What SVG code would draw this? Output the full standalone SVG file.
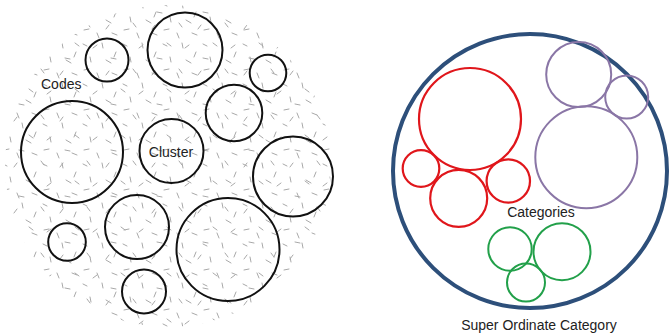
<svg xmlns="http://www.w3.org/2000/svg" width="670" height="334" viewBox="0 0 670 334">
<style>
.code{fill:none;stroke:#111;stroke-width:2}
.red{fill:none;stroke:#e0161b;stroke-width:2.2}
.pur{fill:none;stroke:#8a76a6;stroke-width:2}
.grn{fill:none;stroke:#22a04a;stroke-width:2}
.sup{fill:none;stroke:#2d4f7a;stroke-width:4}
.lbl{font-family:"Liberation Sans",Arial,sans-serif;font-size:14px;fill:#222}
.d{stroke:#a8a8a8;stroke-width:1;fill:none;stroke-linecap:round}
</style>
<defs>
<pattern id="p1" width="40" height="40" patternUnits="userSpaceOnUse">
<path class="d" d="M3 4l4 2M22 3l1 5M36 12l-2 5M10 17l1 5M26 20l5 3M4 30l5-1M17 33l2 5M32 33l5 2"/>
</pattern>
<pattern id="p2" width="46" height="46" patternUnits="userSpaceOnUse" x="11" y="17">
<path class="d" d="M6 8l-3 4M30 6l3 4M18 26l4 3M40 28l-4 3M8 41l5 1"/>
</pattern>
<clipPath id="cp"><ellipse cx="168" cy="166" rx="163" ry="161"/></clipPath>
</defs>
<rect width="670" height="334" fill="#fff"/>
<g id="codes-texture" clip-path="url(#cp)">
<rect x="0" y="0" width="340" height="334" fill="url(#p1)"/>
<rect x="0" y="0" width="340" height="334" fill="url(#p2)"/>
</g>
<g id="cluster-1"><circle class="code" cx="107" cy="60" r="21.5"/></g>
<g id="cluster-2"><circle class="code" cx="185" cy="50" r="37.5"/></g>
<g id="cluster-3"><circle class="code" cx="268" cy="73" r="18.3"/></g>
<g id="cluster-4"><circle class="code" cx="234" cy="113" r="28.3"/></g>
<g id="cluster-5"><circle class="code" cx="72" cy="152" r="51"/></g>
<g id="cluster-6"><circle class="code" cx="171.5" cy="151" r="32"/><text class="lbl" x="171" y="157" text-anchor="middle">Cluster</text></g>
<g id="cluster-7"><circle class="code" cx="293" cy="176.5" r="40"/></g>
<g id="cluster-8"><circle class="code" cx="137" cy="227" r="32"/></g>
<g id="cluster-9"><circle class="code" cx="67" cy="242" r="18.8"/></g>
<g id="cluster-10"><circle class="code" cx="228" cy="249.5" r="51.5"/></g>
<g id="cluster-11"><circle class="code" cx="144" cy="291.5" r="22"/></g>
<g id="codes-label"><text class="lbl" x="41" y="89">Codes</text></g>

<g id="super-ordinate"><circle class="sup" cx="530" cy="171" r="137"/><text class="lbl" x="539" y="330" text-anchor="middle">Super Ordinate Category</text></g>
<g id="category-red">
<circle class="red" cx="470" cy="119" r="51"/>
<circle class="red" cx="421" cy="168.5" r="18.3"/>
<circle class="red" cx="458.7" cy="198.3" r="28.5"/>
<circle class="red" cx="508.3" cy="181" r="21.7"/>
</g>
<g id="category-purple">
<circle class="pur" cx="578.7" cy="74.5" r="32.5"/>
<circle class="pur" cx="626.7" cy="97" r="21.5"/>
<circle class="pur" cx="586.3" cy="157.2" r="51"/>
</g>
<g id="category-green">
<circle class="grn" cx="510" cy="249" r="21.7"/>
<circle class="grn" cx="562" cy="251.7" r="28.5"/>
<circle class="grn" cx="526" cy="282.5" r="19"/>
</g>
<g id="categories-label"><text class="lbl" x="541" y="217" text-anchor="middle">Categories</text></g>
<g id="connectors"/>
</svg>
